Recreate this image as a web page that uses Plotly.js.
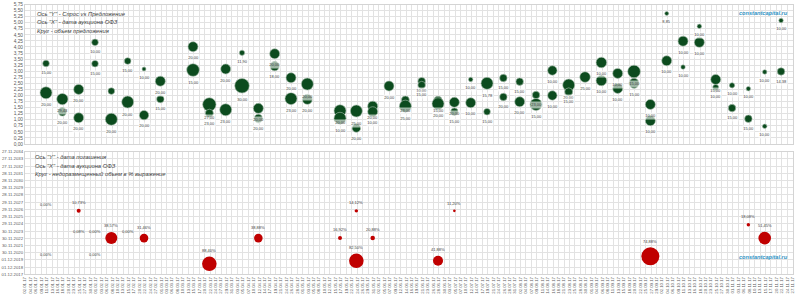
<!DOCTYPE html>
<html><head><meta charset="utf-8">
<script src="https://cdn.plot.ly/plotly-3.0.1.min.js"></script>
<style>html,body{margin:0;padding:0;background:#fff}#chart{width:800px;height:296px}</style>
</head><body><div id="chart"></div>
<script>
// ---- Top chart: auction date, demand/supply ratio, offered volume (label), bubble volume ----
const topDates = ['2017-01-11','2017-01-11','2017-01-18','2017-01-18','2017-01-25','2017-01-25','2017-02-01','2017-02-01',
  '2017-02-08','2017-02-08','2017-02-15','2017-02-15','2017-02-22','2017-02-22','2017-03-01','2017-03-01',
  '2017-03-15','2017-03-15','2017-03-22','2017-03-22','2017-03-29','2017-03-29','2017-04-05','2017-04-05',
  '2017-04-12','2017-04-12','2017-04-19','2017-04-19','2017-04-26','2017-04-26','2017-05-03','2017-05-03',
  '2017-05-17','2017-05-17','2017-05-24','2017-05-24','2017-05-31','2017-05-31','2017-06-07','2017-06-14','2017-06-14',
  '2017-06-21','2017-06-21','2017-06-28','2017-06-28','2017-07-05','2017-07-05','2017-07-12','2017-07-12',
  '2017-07-19','2017-07-19','2017-07-26','2017-07-26','2017-08-02','2017-08-02','2017-08-09','2017-08-09',
  '2017-08-16','2017-08-16','2017-08-23','2017-08-23','2017-08-30','2017-09-06','2017-09-06',
  '2017-09-13','2017-09-13','2017-09-20','2017-09-20','2017-09-27','2017-09-27','2017-10-04','2017-10-04',
  '2017-10-11','2017-10-11','2017-10-18','2017-10-18','2017-10-25','2017-10-25','2017-11-01','2017-11-01',
  '2017-11-08','2017-11-08','2017-11-15','2017-11-15','2017-11-22','2017-11-22'];
const topRatio = [3.32,2.11,1.85,1.33,2.25,1.08,4.19,3.31,
  2.18,1.02,3.42,1.73,3.09,1.19,2.59,1.85,
  4.01,3.05,1.63,1.27,3.09,1.41,3.76,2.40,
  1.47,1.05,3.72,3.21,2.73,1.87,2.47,1.84,
  1.37,1.06,1.36,0.66,1.56,1.33,2.39,1.81,1.56,
  2.59,2.43,1.80,1.66,1.72,1.33,2.66,1.70,
  2.50,1.33,2.72,1.94,2.57,1.74,2.02,1.63,
  3.03,2.00,2.43,2.15,2.76,3.36,2.62,
  2.91,2.29,2.99,2.50,1.63,0.96,5.38,3.43,
  4.24,3.17,4.85,4.19,2.66,2.33,2.42,1.48,
  2.28,1.04,2.97,0.73,5.09,2.99];
const topOffer = [15,20,29.43,20,20,20,10,15,
  null,20,15,20,10,20,20,15,
  20,15,27,23,20,23,11.90,30,
  20,20,20,18,20,23,20,20,
  20,10,25,20,20,10,20,23,25,
  10,15,15,20,20,15,10,10,
  15.78,15,15,20,15,20,23,15,
  10,10,20,15,25,10,10,
  10,10,15,15,10,10,8.85,10,
  10,10,10,10,15,10,10,15,
  10,15,10,10,10,14.38];
const topVol = [11,36,32,18.5,25,25,11,11,
  11,36,11,36,4,22,25,14,
  25,40,45,16,25,36,7,53,
  25,18.5,25,22,25,36,36,25,
  36,36,36,18.5,25,25,25,16,36,
  14,14,16,36,25,14,5,25,
  36,11,14,14,14,25,14,36,
  22,22,36,16,28,28,28,
  25,25,40,25,25,25,4,25,
  25,5,5,25,25,9,7,14,
  5,14,5,5,5,14];

// ---- Bottom chart: auction date, maturity date, unplaced share %, bubble volume ----
const botDates = ['2017-01-11','2017-01-11','2017-01-25','2017-01-25','2017-02-01','2017-02-01','2017-02-08','2017-02-15',
  '2017-02-22','2017-03-22','2017-04-12','2017-05-17','2017-05-24','2017-05-24','2017-05-31','2017-06-28',
  '2017-07-05','2017-09-27','2017-11-08','2017-11-15'];
const botMaturity = ['2026-09-16','2019-10-16','2026-09-16','2022-12-07','2022-12-07','2019-10-16','2022-12-07','2022-12-07',
  '2022-12-07','2019-05-15','2022-12-07','2022-12-07','2026-09-16','2019-10-16','2022-12-07','2019-10-16',
  '2026-09-16','2020-05-27','2024-10-16','2022-12-07'];
const botPct = [0,0,10.73,0.08,0,0,38.57,0,
  31.46,88.40,38.88,16.92,14.12,82.50,20.88,41.88,
  11.20,74.88,18.08,51.45];
const botVol = [0,0,4,0,0,0,36,0,
  18.5,53,18.5,4,3,53,5,25,
  1.7,81,3,40];

const topNotes = ['Ось "Y" - Спрос vs Предложение', 'Ось "X" - дата аукциона ОФЗ', 'Круг - объем предложения'];
const botNotes = ['Ось "Y" - дата погашения', 'Ось "X" - дата аукциона ОФЗ', 'Круг - недоразмещенный объем в % выражение'];
const watermark = 'constantcapital.ru';

// ---- drawing ----
const W = 800, H = 296, DAY = 86400000;
const SIZEREF = 0.5;
const rad = v => Math.sqrt(v / (2 * SIZEREF));
const fmt = v => v.toFixed(2).replace('.', ',');
const px = v => v / W, py = v => 1 - v / H;
const FONT = 'Liberation Sans, Arial, sans-serif';
const GRID = '#e2e2e2';
const xRange = ['2017-01-02', '2017-11-27 03:00'];

const traces = [
  {type:'scatter', mode:'markers', x:topDates, y:topRatio, xaxis:'x', yaxis:'y', hoverinfo:'skip',
   marker:{size:topVol, sizemode:'area', sizeref:SIZEREF, opacity:1, color:'#0c4b1e', line:{color:'#a9bfae', width:0.6}}},
  {type:'scatter', mode:'markers', x:botDates, y:botMaturity, xaxis:'x2', yaxis:'y2', hoverinfo:'skip',
   marker:{size:botVol, sizemode:'area', sizeref:SIZEREF, opacity:1, color:'#c00000', line:{width:0}}}
];

const ann = [];
topDates.forEach((d, i) => {
  if (topOffer[i] == null) return;
  ann.push({x:d, y:topRatio[i], xref:'x', yref:'y', text:fmt(topOffer[i]), showarrow:false,
    yshift:-(rad(topVol[i]) + 6.5), font:{family:FONT, size:4, color:'#404040'},
    bgcolor:'rgba(255,255,255,0.6)', borderpad:0.3});
});
botDates.forEach((d, i) => {
  ann.push({x:d, y:botMaturity[i], xref:'x2', yref:'y2', text:fmt(botPct[i]) + '%', showarrow:false,
    yshift:rad(botVol[i]) + 6.3, font:{family:FONT, size:4, color:'#404040'}});
});
const noteYTop = [13.5, 22, 30.5], noteYBot = [156.7, 165.5, 174.5];
topNotes.forEach((t, i) => ann.push({xref:'paper', yref:'paper', x:px(35), y:py(noteYTop[i]), xanchor:'left', yanchor:'middle',
  text:'<i>' + t + '</i>', showarrow:false, font:{family:FONT, size:5.8, color:'#404040'}}));
botNotes.forEach((t, i) => ann.push({xref:'paper', yref:'paper', x:px(33), y:py(noteYBot[i]), xanchor:'left', yanchor:'middle',
  text:'<i>' + t + '</i>', showarrow:false, font:{family:FONT, size:5.8, color:'#404040'}}));
[13, 257].forEach(y => ann.push({xref:'paper', yref:'paper', x:px(763), y:py(y), xanchor:'center', yanchor:'middle',
  text:'<b><i>' + watermark + '</i></b>', showarrow:false, font:{family:FONT, size:5.6, color:'#2f93c4'}}));

const xCommon = {type:'date', range:xRange, tick0:'2017-01-02', dtick:7 / 3 * DAY, showgrid:true, gridcolor:GRID, gridwidth:1,
  zeroline:false, showline:true, linecolor:'#d4d4d4', linewidth:1, mirror:true, ticks:'', domain:[px(25), px(793)]};

const layout = {
  width:W, height:H, margin:{l:0, r:0, t:0, b:0}, paper_bgcolor:'#fff', plot_bgcolor:'#fff',
  showlegend:false, separators:',.', font:{family:FONT, color:'#595959'},
  xaxis:Object.assign({}, xCommon, {anchor:'y', showticklabels:false}),
  xaxis2:Object.assign({}, xCommon, {anchor:'y2', showticklabels:true, tickangle:-90, tickformat:'%d.%m.%y',
    tickfont:{family:FONT, size:4.3, color:'#595959'}}),
  yaxis:{domain:[py(144), py(4.5)], range:[0, 5.75], tick0:0, dtick:0.25, tickformat:'.2f', anchor:'x',
    showgrid:true, gridcolor:GRID, zeroline:false, showline:true, linecolor:'#d4d4d4', mirror:true, ticks:'',
    tickfont:{family:FONT, size:4.8, color:'#595959'}},
  yaxis2:{domain:[py(274.3), py(151.7)], type:'date', range:['2017-12-01', '2034-11-27'], tick0:'2017-12-01',
    dtick:365 * DAY, tickformat:'%d.%m.%Y', anchor:'x2', showgrid:true, gridcolor:GRID, zeroline:false,
    showline:true, linecolor:'#d4d4d4', mirror:true, ticks:'', tickfont:{family:FONT, size:4.3, color:'#595959'}},
  annotations:ann
};

Plotly.newPlot('chart', traces, layout, {staticPlot:true, displayModeBar:false});
</script>
</body></html>
